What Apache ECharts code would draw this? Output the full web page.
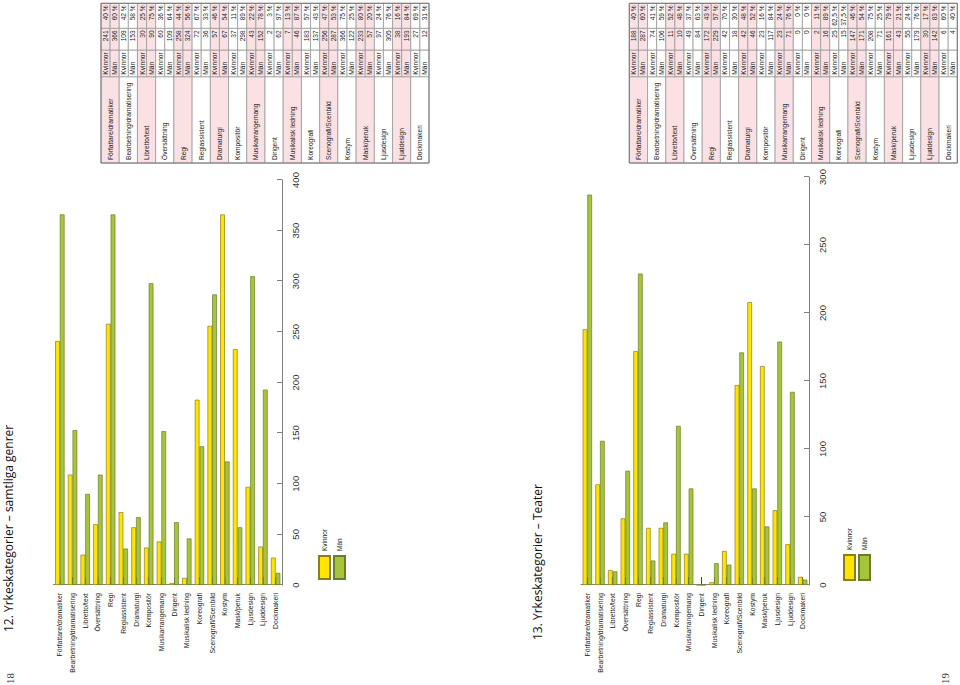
<!DOCTYPE html>
<html><head><meta charset="utf-8">
<script src="https://cdn.jsdelivr.net/npm/echarts@6/dist/echarts.min.js"></script>
<style>
html,body{margin:0;padding:0;background:#fff;overflow:hidden;width:960px;height:685px;}
#page{position:absolute;left:0;top:0;width:685px;height:960px;transform-origin:0 0;transform:translate(0,685px) rotate(-90deg);background:#fff;}
</style></head><body><div id="page"></div>
<script>
const categories = ['Författare/dramatiker','Bearbetning/dramatisering','Libretto/text','Översättning','Regi','Regiassistent','Dramaturgi','Kompositör','Musikarrangemang','Dirigent','Musikalisk ledning','Koreografi','Scenografi/Scenbild','Kostym','Mask/peruk','Ljusdesign','Ljuddesign','Dockmakeri'];
const seriesNames = ['Kvinnor','Män'];
// Chart 12 – samtliga genrer
const kvinnor12 = [241,109,30,60,258,72,57,37,43,2,7,183,256,366,233,97,38,27];
const man12 = [366,153,90,109,366,36,67,298,152,62,46,137,287,122,57,305,193,12];
const man12Table = [366,153,90,109,324,36,67,298,152,62,46,137,287,122,57,305,193,12];
const pctK12 = ['40 %','42 %','25 %','36 %','44 %','67 %','46 %','11 %','22 %','3 %','13 %','57 %','47 %','75 %','80 %','24 %','16 %','69 %'];
const pctM12 = ['60 %','58 %','75 %','64 %','56 %','33 %','54 %','89 %','78 %','97 %','87 %','43 %','53 %','25 %','20 %','76 %','84 %','31 %'];
// Chart 13 – Teater
const kvinnor13 = [188,74,11,49,172,42,42,23,23,0,2,25,147,208,161,55,30,6];
const man13 = [287,106,10,84,229,18,46,117,71,0,16,15,171,71,43,179,142,4];
const pctK13 = ['40 %','41 %','52 %','37 %','43 %','70 %','48 %','16 %','24 %','0 %','11 %','62,5 %','46 %','75 %','79 %','24 %','17 %','60 %'];
const pctM13 = ['60 %','59 %','48 %','63 %','57 %','30 %','52 %','84 %','76 %','0 %','89 %','37,5 %','54 %','25 %','21 %','76 %','83 %','40 %'];
const axis12 = {min:0, max:400, interval:50};
const axis13 = {min:0, max:300, interval:50};
const titles = ['12. Yrkeskategorier – samtliga genrer','13. Yrkeskategorier – Teater'];
const pageNumbers = ['18','19'];

const YELLOW='#FFE500', GREEN='#A7C53B';
const LBL='Liberation Sans, Arial, sans-serif';

const chart = echarts.init(document.getElementById('page'), null, {renderer:'svg', width:685, height:960});

function catAxis(i){
  return {type:'category', gridIndex:i, data:categories, inverse:true,
    axisLine:{show:true, lineStyle:{color:'#808080', width:1}},
    axisTick:{show:true, alignWithLabel:true, inside:true, length:8, lineStyle:{color:'#444', width:1}},
    axisLabel:{fontSize:6.8, color:'#222', margin:8, fontFamily:LBL}};
}
function valAxis(i, a){
  return {type:'value', gridIndex:i, min:a.min, max:a.max, interval:a.interval, position:'bottom',
    splitLine:{show:false},
    axisLine:{show:true, lineStyle:{color:'#808080', width:1}},
    axisTick:{show:true, inside:true, length:5, lineStyle:{color:'#808080'}},
    axisLabel:{fontSize:9.5, color:'#333', margin:8, fontFamily:LBL}};
}
function barSeries(name, data, i, color, border){
  return {type:'bar', name:name, data:data, xAxisIndex:i, yAxisIndex:i,
    barGap:'0%', barCategoryGap:'26%',
    itemStyle:{color:color, borderColor:border, borderWidth:0.7},
    emphasis:{disabled:true}, animation:false};
}

const graphics = [];
const PINK='#FBE1E3', LINE='#9a9a9a';
function buildTable(top, kv, mn, pk, pm){
  const cols=[522,608.3,635,656.7,681.7];
  const rh = 328/36;
  for(let i=0;i<categories.length;i++){
    const y0 = top + 2*i*rh;
    const fill = (i%2===0)? PINK : '#fff';
    graphics.push({type:'rect', shape:{x:cols[0], y:y0, width:cols[1]-cols[0], height:2*rh}, style:{fill:fill, stroke:LINE, lineWidth:0.8}});
    graphics.push({type:'text', x:cols[0]+3, y:y0+rh, style:{text:categories[i], fontSize:6.6, fontFamily:LBL, fill:'#222', align:'left', verticalAlign:'middle'}});
    const rows=[[seriesNames[0], kv[i], pk[i]],[seriesNames[1], mn[i], pm[i]]];
    rows.forEach((r,k)=>{
      const yy = y0 + k*rh;
      for(let c=1;c<4;c++){
        graphics.push({type:'rect', shape:{x:cols[c], y:yy, width:cols[c+1]-cols[c], height:rh}, style:{fill:fill, stroke:LINE, lineWidth:0.8}});
      }
      graphics.push({type:'text', x:cols[1]+2, y:yy+rh/2, style:{text:r[0], fontSize:6.6, fontFamily:LBL, fill:'#222', align:'left', verticalAlign:'middle'}});
      graphics.push({type:'text', x:cols[3]-2, y:yy+rh/2, style:{text:String(r[1]), fontSize:6.6, fontFamily:LBL, fill:'#222', align:'right', verticalAlign:'middle'}});
      graphics.push({type:'text', x:cols[4]-2, y:yy+rh/2, style:{text:r[2], fontSize:6.6, fontFamily:LBL, fill:'#222', align:'right', verticalAlign:'middle'}});
    });
  }
  graphics.push({type:'rect', shape:{x:cols[0], y:top, width:cols[4]-cols[0], height:36*rh}, style:{fill:'none', stroke:'#777', lineWidth:1}});
}
buildTable(101, kvinnor12, man12Table, pctK12, pctM12);
buildTable(629.3, kvinnor13, man13, pctK13, pctM13);

graphics.push({type:'text', x:53, y:8, style:{text:titles[0], fontSize:12, fontFamily:'Open Sans, sans-serif', fill:'#111', align:'left', verticalAlign:'middle'}});
graphics.push({type:'text', x:45, y:537.5, style:{text:titles[1], fontSize:12, fontFamily:'Open Sans, sans-serif', fill:'#111', align:'left', verticalAlign:'middle'}});
graphics.push({type:'text', x:1, y:10, style:{text:pageNumbers[0], fontSize:11, fontFamily:'Liberation Serif, serif', fill:'#333', align:'left', verticalAlign:'middle'}});
graphics.push({type:'text', x:1, y:945, style:{text:pageNumbers[1], fontSize:11, fontFamily:'Liberation Serif, serif', fill:'#333', align:'left', verticalAlign:'middle'}});

const option = {
  backgroundColor:'#fff',
  animation:false,
  grid:[
    {left:100, top:53.5, width:405, height:228.5, containLabel:false},
    {left:100, top:581, width:408, height:228, containLabel:false}
  ],
  xAxis:[valAxis(0, axis12), valAxis(1, axis13)],
  yAxis:[catAxis(0), catAxis(1)],
  legend:[
    {left:100, top:313, orient:'vertical', itemWidth:23, itemHeight:11, itemGap:2, data:seriesNames, icon:'rect', textStyle:{fontSize:6.5, fontFamily:LBL, color:'#222'}, selectedMode:false},
    {left:99, top:838, orient:'vertical', itemWidth:25, itemHeight:11, itemGap:2, data:seriesNames, icon:'rect', textStyle:{fontSize:6.5, fontFamily:LBL, color:'#222'}, selectedMode:false}
  ],
  series:[
    barSeries(seriesNames[0], kvinnor12, 0, YELLOW, '#8c7d1c'),
    barSeries(seriesNames[1], man12, 0, GREEN, '#6a7d2b'),
    barSeries(seriesNames[0], kvinnor13, 1, YELLOW, '#8c7d1c'),
    barSeries(seriesNames[1], man13, 1, GREEN, '#6a7d2b')
  ],
  graphic:graphics
};
chart.setOption(option);
</script></body></html>
